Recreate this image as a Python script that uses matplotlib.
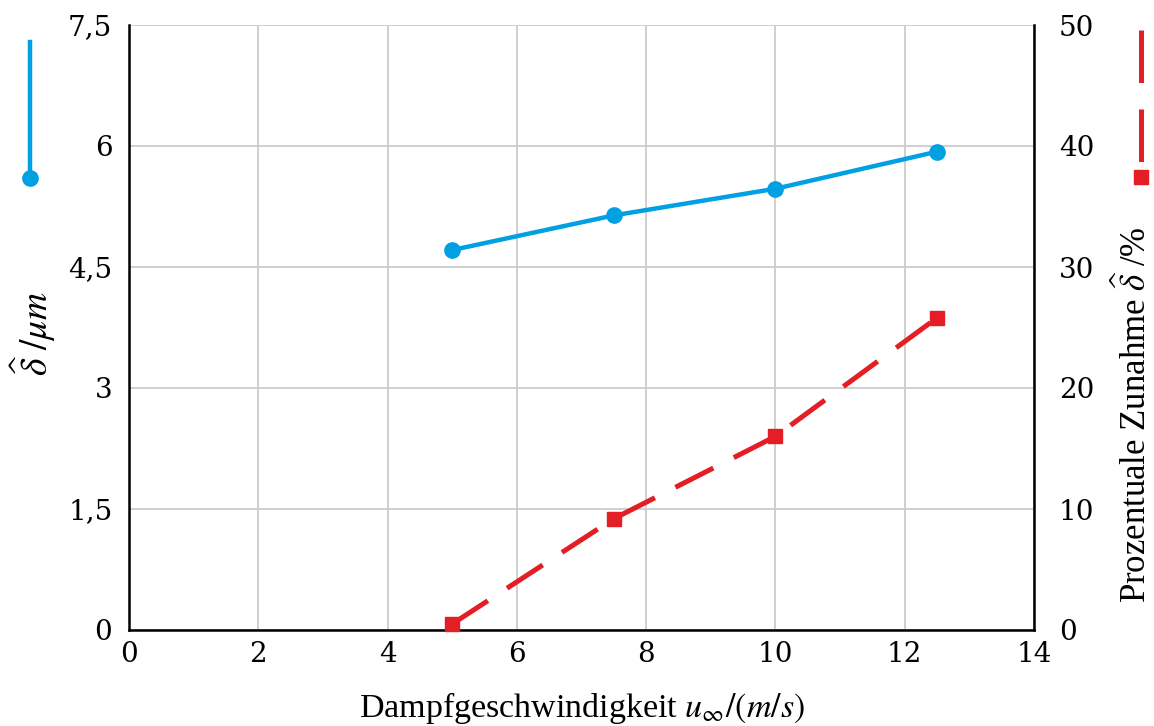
import matplotlib
matplotlib.use("Agg")
import matplotlib.pyplot as plt
from matplotlib.lines import Line2D

# Data
u_inf = [5.0, 7.5, 10.0, 12.5]
delta_hat = [4.71, 5.14, 5.47, 5.93]
increase_pct = [0.5, 9.2, 16.0, 25.8]
x_ticks = [0, 2, 4, 6, 8, 10, 12, 14]
y_left_ticks = [0, 1.5, 3, 4.5, 6, 7.5]
y_left_labels = ["0", "1,5", "3", "4,5", "6", "7,5"]
y_right_ticks = [0, 10, 20, 30, 40, 50]

blue = "#00A0E3"
red = "#E31E24"

plt.rcParams["font.family"] = ["Liberation Serif", "DejaVu Serif"]
plt.rcParams["mathtext.fontset"] = "stix"

fig = plt.figure(figsize=(11.54, 7.26), dpi=100)
ax = fig.add_axes([129/1154, 1-630/726, (1034-129)/1154, (630-25)/726])
ax2 = ax.twinx()

ax.plot(u_inf, delta_hat, color=blue, lw=3.2, marker="o", ms=11, zorder=3, clip_on=False)
ax2.plot(u_inf, increase_pct, color=red, lw=3.6, marker="s", ms=10.5,
         dashes=(8.5, 4.6), zorder=3, clip_on=False)

ax.set_xlim(0, 14)
ax.set_ylim(0, 7.5)
ax2.set_ylim(0, 50)
ax.set_xticks(x_ticks)
ax.set_xticklabels([str(t) for t in x_ticks])
ax.set_yticks(y_left_ticks)
ax.set_yticklabels(y_left_labels)
ax2.set_yticks(y_right_ticks)

ax.grid(True, color="#CCCCCC", lw=1.3)
ax.set_axisbelow(True)
for a in (ax, ax2):
    a.spines["top"].set_visible(False)
    a.tick_params(length=0, labelsize=20, pad=12)
    for lab in a.get_xticklabels() + a.get_yticklabels():
        lab.set_family("DejaVu Serif")
ax.tick_params(axis="x", pad=8)
for s in ("left", "bottom"):
    ax.spines[s].set_linewidth(1.8)
    ax.spines[s].set_color("black")
ax2.spines["right"].set_linewidth(1.8)
ax2.spines["left"].set_visible(False)
ax2.spines["bottom"].set_visible(False)
ax.spines["right"].set_visible(False)
ax2.tick_params(axis="y", pad=18)

ax.set_xlabel(r"Dampfgeschwindigkeit $u_\infty/(m/s)$", fontsize=24.5)
ax.xaxis.set_label_coords(0.5, -0.1)
ax.set_ylabel(r"$\widehat{\delta}\ /\mu m$", fontsize=27)
ax.yaxis.set_label_coords(-0.079, 0.49)
ax2.set_ylabel(r"Prozentuale Zunahme $\widehat{\delta}$ /%", fontsize=25, rotation=90)
ax2.yaxis.set_label_coords(1.0895, 0.356)

# legend keys beside the axis labels
fig.add_artist(Line2D([30/1154, 30/1154], [1-42/726, 1-178/726], color=blue, lw=3.2,
                      transform=fig.transFigure))
fig.add_artist(Line2D([30/1154], [1-178/726], color=blue, marker="o", ms=11, lw=0,
                      transform=fig.transFigure))
fig.add_artist(Line2D([1141/1154, 1141/1154], [1-30/726, 1-177/726], color=red, lw=3.6,
                      dashes=(10.5, 5.3), transform=fig.transFigure))
fig.add_artist(Line2D([1141/1154], [1-177/726], color=red, marker="s", ms=10.5, lw=0,
                      transform=fig.transFigure))

fig.savefig("out.png", dpi=100)
